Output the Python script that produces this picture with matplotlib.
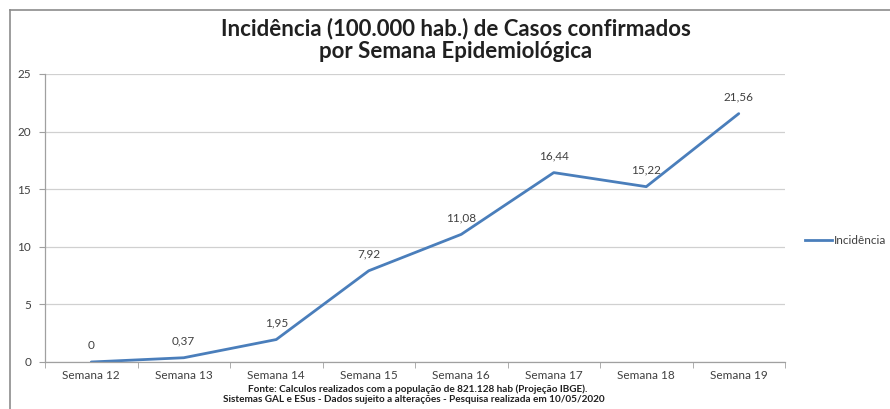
import matplotlib
matplotlib.use("Agg")
import matplotlib.pyplot as plt
from matplotlib.lines import Line2D

categories = ["Semana 12", "Semana 13", "Semana 14", "Semana 15",
              "Semana 16", "Semana 17", "Semana 18", "Semana 19"]
incidencia = [0, 0.37, 1.95, 7.92, 11.08, 16.44, 15.22, 21.56]
value_labels = ["0", "0,37", "1,95", "7,92", "11,08", "16,44", "15,22", "21,56"]
y_ticks = [0, 5, 10, 15, 20, 25]

FONT = ["Lato", "DejaVu Sans"]
plt.rcParams["font.family"] = FONT

W, H = 890, 409
fig = plt.figure(figsize=(W / 100, H / 100), dpi=100)
fig.patch.set_facecolor("white")

ax = fig.add_axes([45 / W, 1 - 362 / H, (785 - 45) / W, (362 - 74) / H])
n = len(categories)
x = list(range(n))
color = "#4A7EBB"
ax.plot(x, incidencia, color=color, lw=2, solid_capstyle="round")

ax.set_xlim(-0.5, n - 0.5)
ax.set_ylim(0, 25)
ax.set_yticks(y_ticks)
ax.set_yticklabels([str(t) for t in y_ticks], fontsize=8.5, color="#404040")
ax.set_xticks(x)
ax.set_xticklabels(categories, fontsize=8.5, color="#404040")
ax.set_xticks([i - 0.5 for i in range(n + 1)], minor=True)
ax.tick_params(axis="x", which="major", length=0, pad=6)
ax.tick_params(axis="x", which="minor", length=4, color="#A0A0A0")
ax.tick_params(axis="y", length=4, color="#A0A0A0", pad=6)
ax.yaxis.grid(True, color="#D0D0D0", lw=0.9)
ax.set_axisbelow(True)
for s in ["top", "right"]:
    ax.spines[s].set_visible(False)
for s in ["left", "bottom"]:
    ax.spines[s].set_color("#A0A0A0")
    ax.spines[s].set_linewidth(0.9)

for xi, yi, lab in zip(x, incidencia, value_labels):
    ax.annotate(lab, (xi, yi), xytext=(0, 8), textcoords="offset points",
                ha="center", va="bottom", fontsize=8.5, color="#404040")

fig.text(456 / W, 1 - 29 / H, "Incidência (100.000 hab.) de Casos confirmados",
         ha="center", va="center", fontsize=16, fontweight="bold", color="#202020")
fig.text(456 / W, 1 - 52 / H, "por Semana Epidemiológica",
         ha="center", va="center", fontsize=16, fontweight="bold", color="#202020")

fig.text(418 / W, 1 - 389 / H,
         "Fonte: Calculos realizados com a população de 821.128 hab (Projeção IBGE).",
         ha="center", va="center", fontsize=7.2, fontweight="bold", color="#202020")
fig.text(414 / W, 1 - 399.5 / H,
         "Sistemas GAL e ESus - Dados sujeito a alterações - Pesquisa realizada em 10/05/2020",
         ha="center", va="center", fontsize=7.2, fontweight="bold", color="#202020")

# legend
fig.add_artist(Line2D([805 / W, 832 / W], [1 - 240 / H, 1 - 240 / H],
                      color=color, lw=2))
fig.text(834 / W, 1 - 240 / H, "Incidência", ha="left", va="center",
         fontsize=8.5, color="#404040")

# outer frame (top and left)
fig.add_artist(Line2D([10 / W, 1.0], [1 - 10 / H, 1 - 10 / H], color="#8C8C8C", lw=1.2))
fig.add_artist(Line2D([10 / W, 10 / W], [1 - 10 / H, 0], color="#8C8C8C", lw=1.2))

fig.savefig("out.png", dpi=100, facecolor="white")
